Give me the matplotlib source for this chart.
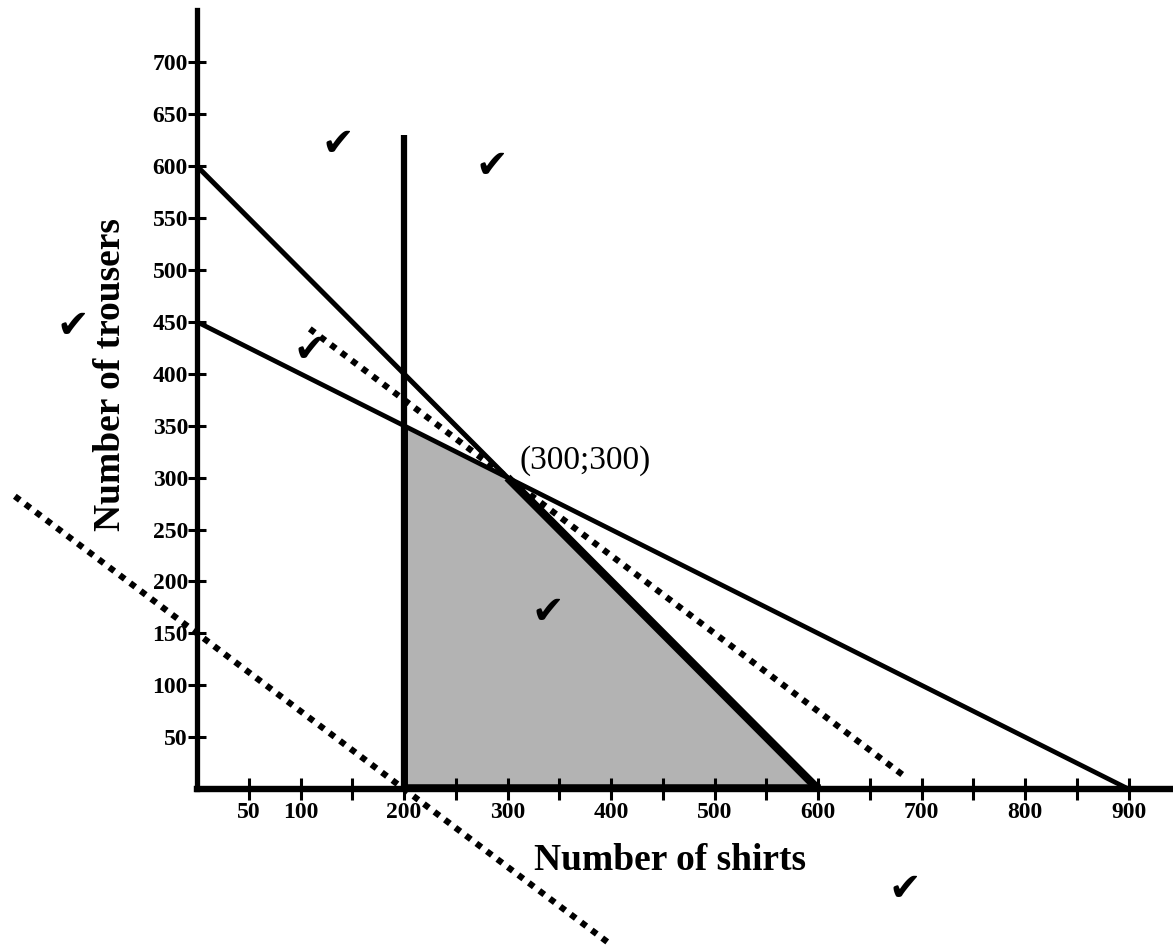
"""Graphical solution of the shirts / trousers linear programming problem."""
import numpy as np
import matplotlib
matplotlib.use("Agg")
import matplotlib.pyplot as plt

# constraint lines given by their axis intercepts (x-intercept, y-intercept)
line_a = (600, 600)      # x + y = 600
line_b = (900, 450)      # x + 2y = 900
min_shirts = 200         # x >= 200
vline_top = 630

# iso-profit (search) lines: slope -3/4
profit_slope = -0.75
profit_low_x = [-176, 401]     # through (200; 0)
profit_high_x = [109, 684]     # through (300; 300)

# feasible region corners
region_x = [200, 200, 300, 600]
region_y = [0, 350, 300, 0]

optimum = (300, 300)

x_ticks = np.arange(50, 901, 50)
x_labels = ["50", "100", "", "200", "", "300", "", "400", "", "500", "",
            "600", "", "700", "", "800", "", "900"]
y_ticks = np.arange(50, 701, 50)

# check marks (data coordinates)
ticks_x = [136, 285, -120, 109, 339, 684]
ticks_y = [621, 600, 446, 423, 171, -96]

plt.rcParams["font.family"] = ["Liberation Serif", "DejaVu Serif"]

W, H = 1173, 947
fig = plt.figure(figsize=(W / 100, H / 100), dpi=100)
ox, oy = 197, 789          # pixel position of the origin
sx, sy = 1.035, 1.038      # pixels per unit
xmax = (W - ox) / sx
ymax = (oy - 10) / sy
ax = fig.add_axes([ox / W, (H - oy) / H, (W - ox) / W, (oy - 10) / H])
ax.set_xlim(0, xmax)
ax.set_ylim(0, ymax)

ax.fill(region_x, region_y, color="#b3b3b3", lw=0, zorder=1)

# x + y = 600
ax.plot([0, line_a[0]], [line_a[1], 0], color="black", lw=3.6, zorder=3)
ax.plot([optimum[0], line_a[0]], [optimum[1], 0], color="black", lw=6,
        solid_capstyle="butt", zorder=3)
# x + 2y = 900
ax.plot([0, line_b[0]], [line_b[1], 0], color="black", lw=3.4, zorder=3)
# x = 200
ax.plot([min_shirts, min_shirts], [0, vline_top], color="black", lw=4.5,
        solid_capstyle="butt", zorder=3)
ax.plot([region_x[0], region_x[1]], [region_y[0], region_y[1]], color="black",
        lw=5, solid_capstyle="butt", zorder=3)
ax.plot([min_shirts, line_a[0]], [2, 2], color="black", lw=4, zorder=3)

# dotted iso-profit lines
for xs, (px, py) in ((profit_low_x, (200, 0)), (profit_high_x, optimum)):
    xs = np.array(xs, dtype=float)
    ys = py + profit_slope * (xs - px)
    ax.plot(xs, ys, color="black", lw=4.5, linestyle=(0, (1, 1.1)),
            dash_capstyle="butt", clip_on=False, zorder=4)

ax.text(312, 302, "(%d;%d)" % optimum, fontsize=24, ha="left", va="bottom")

for tx, ty in zip(ticks_x, ticks_y):
    ax.text(tx, ty, "\u2714", fontsize=28, ha="center", va="center",
            family=["DejaVu Sans"], clip_on=False)

for side in ("top", "right"):
    ax.spines[side].set_visible(False)
ax.spines["left"].set_linewidth(3.8)
ax.spines["bottom"].set_linewidth(4.6)

ax.set_xticks(x_ticks)
ax.set_xticklabels(x_labels)
ax.set_yticks(y_ticks)
ax.tick_params(axis="x", direction="inout", length=16, width=2.2, pad=1,
               labelsize=17)
ax.tick_params(axis="y", direction="inout", length=13, width=2.2, pad=0,
               labelsize=17)
for lab in ax.get_xticklabels() + ax.get_yticklabels():
    lab.set_fontweight("bold")

fig.text(670 / W, 1 - 860 / H, "Number of shirts", fontsize=27,
         fontweight="bold", ha="center", va="center")
fig.text(111 / W, 1 - 375 / H, "Number of trousers", fontsize=27,
         fontweight="bold", ha="center", va="center", rotation=90)

fig.savefig("out.png", dpi=100)
